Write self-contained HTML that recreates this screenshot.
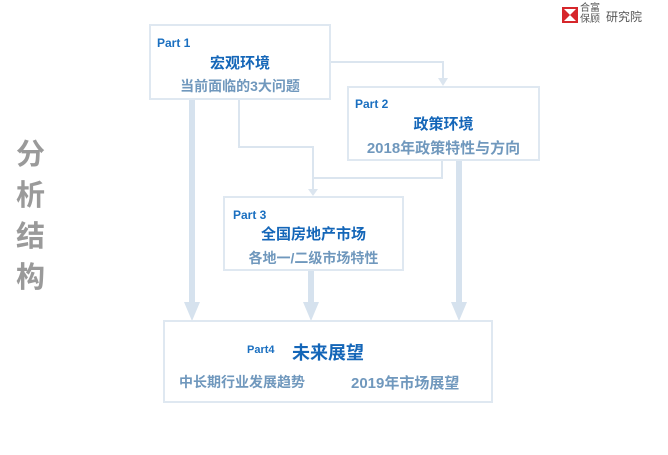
<!DOCTYPE html>
<html><head><meta charset="utf-8"><style>
body{margin:0;width:668px;height:455px;background:#fff;position:relative;overflow:hidden;font-family:"Liberation Sans","Noto Sans CJK SC",sans-serif;font-weight:bold}
.box{position:absolute;border:2px solid #dfe8f1;background:#fff;box-sizing:border-box}
.p{position:absolute;color:#1a6fc0;font-size:12px}
.t{position:absolute;color:#1466b8;font-size:15px;text-align:center;width:100%}
.s{position:absolute;color:#7098bd;font-size:14px;text-align:center;width:100%}
</style></head><body>
<svg width="668" height="455" style="position:absolute;left:0;top:0">
<g stroke="#dbe5ef" stroke-width="2" fill="none">
<polyline points="330,62 443,62 443,80"/>
<polyline points="239,99 239,147 313,147 313,190"/>
<polyline points="442,160 442,178 313,178"/>
</g>
<g fill="#dbe5ef">
<polygon points="438,78 448,78 443,86"/>
<polygon points="308,189 318,189 313,196"/>
</g>
<g stroke="#d6e2ee" stroke-width="6">
<line x1="192" y1="99" x2="192" y2="305"/>
<line x1="311" y1="270" x2="311" y2="305"/>
<line x1="459" y1="160" x2="459" y2="305"/>
</g>
<g fill="#d6e2ee">
<polygon points="184,302 200,302 192,321"/>
<polygon points="303,302 319,302 311,321"/>
<polygon points="451,302 467,302 459,321"/>
</g>
</svg>
<div class="box" style="left:149px;top:24px;width:182px;height:76px">
<div class="p" style="left:6px;top:10px">Part 1</div>
<div class="t" style="top:26px">宏观环境</div>
<div class="s" style="top:50px">当前面临的3大问题</div></div>
<div class="box" style="left:347px;top:86px;width:193px;height:75px">
<div class="p" style="left:6px;top:9px">Part 2</div>
<div class="t" style="top:25px">政策环境</div>
<div class="s" style="top:49px;font-size:15px">2018年政策特性与方向</div></div>
<div class="box" style="left:223px;top:196px;width:181px;height:75px">
<div class="p" style="left:8px;top:10px">Part 3</div>
<div class="t" style="top:25px">全国房地产市场</div>
<div class="s" style="top:50px">各地一/二级市场特性</div></div>
<div class="box" style="left:163px;top:320px;width:330px;height:83px">
<div class="p" style="left:82px;top:22px;font-size:11px">Part4</div>
<div class="t" style="left:127px;top:17px;width:auto;font-size:18px">未来展望</div>
<div class="s" style="left:14px;top:50px;width:auto">中长期行业发展趋势</div>
<div class="s" style="left:186px;top:50px;width:auto;font-size:15px">2019年市场展望</div></div>
<div style="position:absolute;left:16px;top:135px;width:34px;color:#9a9a9a;font-size:29px;line-height:41px">分<br>析<br>结<br>构</div>
<svg width="16" height="16" style="position:absolute;left:562px;top:7px"><rect width="16" height="16" fill="#d6262b"/><polygon points="2,2 14,2 8,8" fill="#fff"/><polygon points="2,14 14,14 8,8" fill="#fff"/></svg>
<div style="position:absolute;left:580px;top:3px;font-size:10px;line-height:11px;color:#555;font-weight:normal">合富<br>保顾</div>
<div style="position:absolute;left:606px;top:8px;font-size:12px;color:#555;font-weight:normal">研究院</div>
</body></html>
